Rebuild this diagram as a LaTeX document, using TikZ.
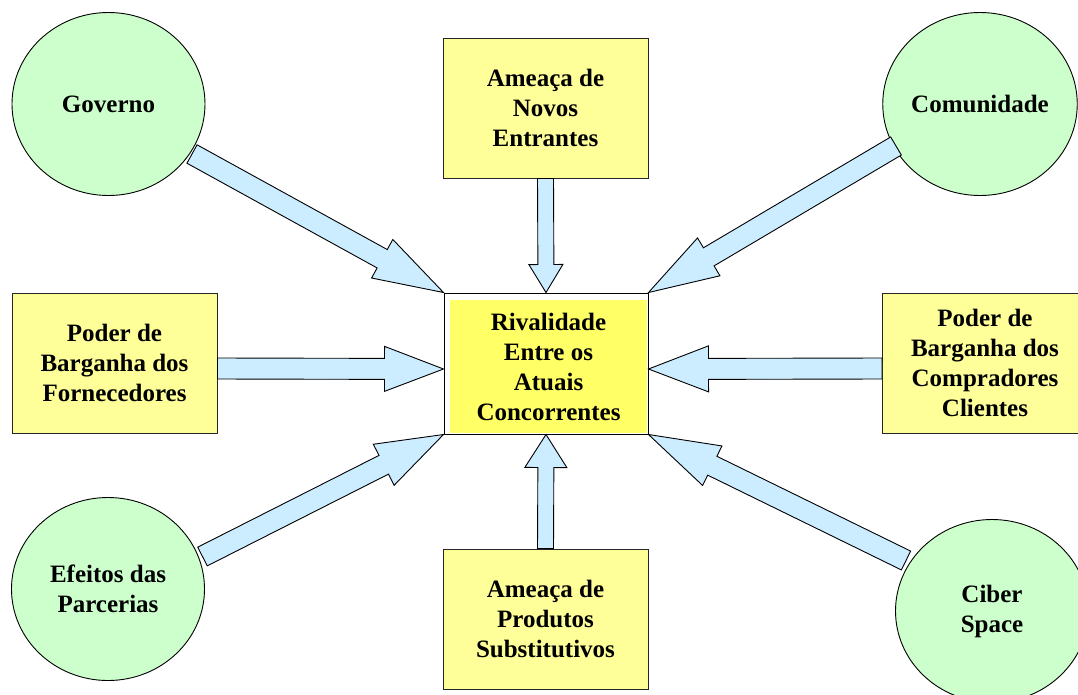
\documentclass[tikz,border=0pt]{standalone}
\usepackage{fontspec}
\setmainfont{Liberation Serif}
\usetikzlibrary{calc,shapes.geometric}
\definecolor{boxyellow}{HTML}{FFFF99}
\definecolor{coreyellow}{HTML}{FFFF66}
\definecolor{circgreen}{HTML}{CCFFCC}
\definecolor{arrblue}{HTML}{CCECFF}
\tikzset{
  lbl/.style={font=\fontsize{25}{30}\selectfont\bfseries, align=center, text=black},
  circ/.style={ellipse, draw=black, line width=0.9pt, fill=circgreen, minimum width=193pt, minimum height=183pt, inner sep=0pt, lbl},
  force/.style={rectangle, draw=black!85, line width=1pt, fill=boxyellow, minimum width=205pt, minimum height=140pt, inner sep=0pt, lbl},
  blockarrow/.style={draw=black, line width=0.9pt, fill=arrblue, line join=miter},
}
\newcommand\blockarr[5]{%
  \coordinate (ba-h) at ($(#2)!#5!(#1)$);
  \draw[blockarrow] ($(#1)!#3!90:(#2)$) -- ($(ba-h)!#3!90:(#2)$) -- ($(ba-h)!#4!90:(#2)$) -- (#2)
    -- ($(ba-h)!#4!-90:(#2)$) -- ($(ba-h)!#3!-90:(#2)$) -- ($(#1)!#3!-90:(#2)$) -- cycle;}
\begin{document}
\begin{tikzpicture}[x=1pt,y=-1pt]
\useasboundingbox (0,0) rectangle (1078,694);
\clip (0,0) rectangle (1078,694);
\fill[white] (0,0) rectangle (1078,694);

% circles
\node[circ] (gov) at (108.5,104) {Governo};
\node[circ] (com) at (980,104) {Comunidade};
\node[circ] (efe) at (108,589) {Efeitos das\\Parcerias};
\node[circ] (cib) at (992,611) {Ciber\\Space};

% boxes
\node[force] (top) at (545.5,108) {Ameaça de\\Novos\\Entrantes};
\node[force] (bot) at (545.5,619) {Ameaça de\\Produtos\\Substitutivos};
\node[force] (lft) at (114.5,363) {Poder de\\Barganha dos\\Fornecedores};
\node[force] (rgt) at (985,363) {Poder de\\Barganha dos\\Compradores\\Clientes};

% central box
\node[rectangle, draw=black, line width=1pt, fill=white, minimum width=204pt, minimum height=141pt, inner sep=0pt] (core) at (546,363.5) {};
\node[rectangle, fill=coreyellow, minimum width=197pt, minimum height=133pt, inner sep=0pt, lbl] (corein) at (548.5,366.5) {Rivalidade\\Entre os\\Atuais\\Concorrentes};

% arrow end points
\coordinate (s1) at (192,154);
\coordinate (s2) at (896,146);
\coordinate (s3) at (202.5,556.5);
\coordinate (s4) at (906,560.5);
\coordinate (ls) at ($(lft.east)+(0,5.5)$);
\coordinate (lt) at ($(core.west)+(0,5.5)$);
\coordinate (rs) at ($(rgt.west)+(0,5.5)$);
\coordinate (rt) at ($(core.east)+(0,5.5)$);

\blockarr{s1}{core.north west}{10.5pt}{22pt}{70pt}
\blockarr{s2}{core.north east}{10.5pt}{22pt}{70pt}
\blockarr{s3}{core.south west}{10.5pt}{23pt}{67pt}
\blockarr{s4}{core.south east}{10.5pt}{22pt}{71pt}
\blockarr{top.south}{core.north}{8pt}{17pt}{28pt}
\blockarr{bot.north}{core.south}{8pt}{21pt}{33pt}
\blockarr{ls}{lt}{10.5pt}{22.5pt}{59pt}
\blockarr{rs}{rt}{10.5pt}{23pt}{60pt}
\end{tikzpicture}
\end{document}
